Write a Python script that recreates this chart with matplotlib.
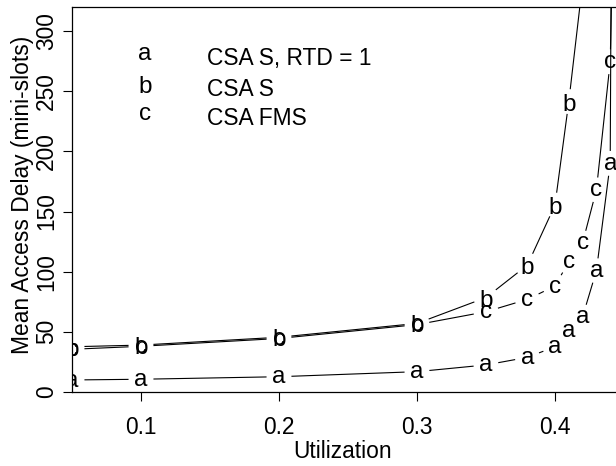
import numpy as np
import matplotlib
matplotlib.use('Agg')
import matplotlib.pyplot as plt
from matplotlib import transforms

# utilization values (x) and mean access delay per scheme
util = [0.05, 0.10, 0.20, 0.30, 0.35, 0.38, 0.40, 0.41, 0.42, 0.43, 0.44, 0.45]
delay_a = [10.0, 10.6, 12.7, 16.9, 22.5, 28.8, 37.6, 51.0, 62.6, 100.8, 190.0, 2500.0]
util_b = [0.05, 0.10, 0.20, 0.30, 0.35, 0.38, 0.40, 0.41, 0.42]
delay_b = [37.6, 39.0, 45.5, 57.0, 78.5, 105.5, 155.4, 241.4, 340.0]
delay_c = [35.5, 38.0, 44.5, 56.0, 66.7, 77.0, 88.1, 108.3, 124.0, 168.0, 274.5, 800.0]

legend_letters = ['a', 'b', 'c']
legend_names = ['CSA S, RTD = 1', 'CSA S', 'CSA FMS']

FONT = 'Liberation Sans'
FS = 16.4     # axis text
LFS = 17.5    # letters used as points
GAP = 13      # px gap around each letter (R type="b")

plt.rcParams['font.family'] = [FONT, 'DejaVu Sans']

fig = plt.figure(figsize=(6.16, 4.66), dpi=100)
W, H = 616, 466
# plot region: left 72px, bottom 392px, top 7px; runs past the right edge
x0, x1 = 0.05, 0.46
px_per_x = 1380.0
ax_w = (x1 - x0) * px_per_x
ax = fig.add_axes([72 / W, (H - 392) / H, ax_w / W, (392 - 7) / H])
ax.set_xlim(x0, x1)
ax.set_ylim(0, 320)

for s in ['left', 'top', 'bottom']:
    ax.spines[s].set_linewidth(0.9)
ax.spines['right'].set_visible(False)

ax.set_xticks([0.1, 0.2, 0.3, 0.4])
ax.set_xticklabels(['0.1', '0.2', '0.3', '0.4'])
ax.set_yticks([0, 50, 100, 150, 200, 250, 300])
ax.tick_params(direction='out', length=6.5, width=0.8, labelsize=FS)
ax.tick_params(axis='x', pad=10.5)
ax.tick_params(axis='y', pad=3.5)
plt.setp(ax.get_yticklabels(), rotation=90, va='center')

ax.set_xlabel('Utilization', fontsize=FS)
ax.set_ylabel('Mean Access Delay (mini-slots)', fontsize=FS)
ax.xaxis.set_label_coords((342.5 - 72) / ax_w, -(451 - 392) / (392 - 7))
ax.xaxis.label.set_va('center')
ax.yaxis.set_label_coords(-(72 - 22.5) / ax_w, (392 - 195) / (392 - 7))
ax.yaxis.label.set_va('center')

# vertical offsets so each letter is centred on its own ink
lift = {'a': 0.27, 'b': 0.37, 'c': 0.27}


def letter(xv, yv, ch, clip=True):
    tr = transforms.offset_copy(ax.transData, fig=fig, y=-lift[ch] * LFS, units='points')
    ax.text(xv, yv, ch, transform=tr, ha='center', va='baseline',
            fontsize=LFS, clip_on=clip)


def series(xs, ys, ch):
    pts = ax.transData.transform(np.column_stack([xs, ys]))
    inv = ax.transData.inverted()
    for p, q in zip(pts[:-1], pts[1:]):
        d = q - p
        n = np.hypot(d[0], d[1])
        if n <= 2 * GAP:
            continue
        u = d / n
        seg = inv.transform(np.array([p + u * GAP, q - u * GAP]))
        ax.plot(seg[:, 0], seg[:, 1], color='black', lw=0.8)
    for xv, yv in zip(xs, ys):
        letter(xv, yv, ch)


series(util, delay_a, 'a')
series(util_b, delay_b, 'b')
series(util, delay_c, 'c')

# legend (letters + names), no box
leg_y = [278.6, 253.2, 228.8]
for ch, name, yv in zip(legend_letters, legend_names, leg_y):
    letter(0.1029, yv + 3, ch)
    ax.text(0.1476, yv - 7, name, fontsize=FS, va='baseline', ha='left')

fig.savefig('out.png', dpi=100)
